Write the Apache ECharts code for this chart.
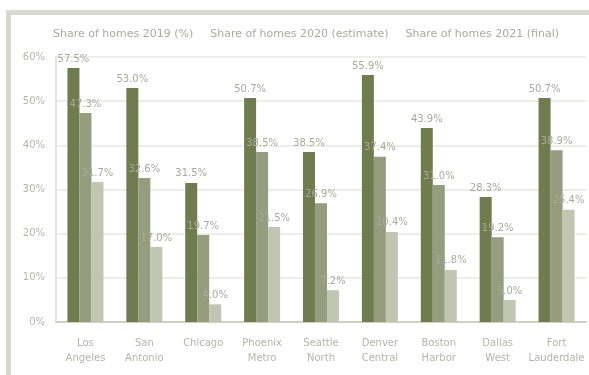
<!DOCTYPE html>
<html>
<head>
<meta charset="utf-8">
<style>
html,body{margin:0;padding:0;background:#fff;}
#frame{position:absolute;left:6px;top:10px;width:583px;height:365px;border-top:5px solid #d8d9ce;border-left:5px solid #d8d9ce;box-sizing:border-box;}
#chart{position:absolute;left:0;top:0;width:589px;height:375px;}
</style>
<script src="https://cdn.jsdelivr.net/npm/echarts@6/dist/echarts.min.js"></script>
</head>
<body>
<div id="frame"></div>
<div id="chart"></div>
<script>
var categories = ['Los\nAngeles', 'San\nAntonio', 'Chicago', 'Phoenix\nMetro', 'Seattle\nNorth', 'Denver\nCentral', 'Boston\nHarbor', 'Dallas\nWest', 'Fort\nLauderdale'];
var seriesNames = ['Share of homes 2019 (%)', 'Share of homes 2020 (estimate)', 'Share of homes 2021 (final)'];
var values2019 = [57.5, 53.0, 31.5, 50.7, 38.5, 55.9, 43.9, 28.3, 50.7];
var values2020 = [47.3, 32.6, 19.7, 38.5, 26.9, 37.4, 31.0, 19.2, 38.9];
var values2021 = [31.7, 17.0, 4.0, 21.5, 7.2, 20.4, 11.8, 5.0, 25.4];
var yTicks = [0, 10, 20, 30, 40, 50, 60];
var colors = ['#6e7c4f', '#959d7e', '#c2c5b1'];

var chart = echarts.init(document.getElementById('chart'), null, {renderer: 'canvas'});
var dataSets = [values2019, values2020, values2021];
var series = dataSets.map(function (d, i) {
  return {
    name: seriesNames[i],
    type: 'bar',
    data: d,
    barWidth: 12,
    barGap: '0%',
    itemStyle: {color: colors[i]},
    label: {
      show: true,
      position: 'top',
      distance: 4,
      formatter: function (p) { return p.value.toFixed(1) + '%'; },
      color: '#a8aa9c',
      fontSize: 10,
      fontFamily: 'DejaVu Sans'
    }
  };
});

chart.setOption({
  animation: false,
  backgroundColor: 'transparent',
  color: colors,
  legend: {
    top: 24,
    left: 43,
    itemGap: 12,
    itemWidth: 0,
    itemHeight: 0,
    icon: 'none',
    textStyle: {color: '#a9ab9d', fontSize: 11, fontFamily: 'DejaVu Sans'},
    data: seriesNames
  },
  grid: {left: 56, right: 3, top: 57, bottom: 53},
  xAxis: {
    type: 'category',
    data: categories,
    axisLine: {lineStyle: {color: '#cfd0c4', width: 2}},
    axisTick: {show: false},
    axisLabel: {color: '#b3b5a8', fontSize: 10, lineHeight: 15, margin: 14, fontFamily: 'DejaVu Sans', interval: 0}
  },
  yAxis: {
    type: 'value',
    min: yTicks[0],
    max: yTicks[yTicks.length - 1],
    interval: yTicks[1] - yTicks[0],
    axisLine: {show: true, lineStyle: {color: '#e4e5dc', width: 2}},
    axisTick: {show: false},
    axisLabel: {color: '#b3b5a8', fontSize: 10, margin: 11, fontFamily: 'DejaVu Sans', formatter: '{value}%'},
    splitLine: {lineStyle: {color: '#eeeee8', width: 2}}
  },
  series: series
});
</script>
</body>
</html>
